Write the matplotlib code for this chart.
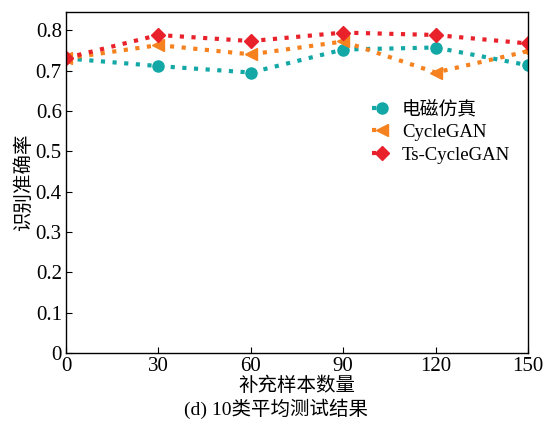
import matplotlib

matplotlib.use("Agg")
import matplotlib.pyplot as plt
from matplotlib.ticker import FuncFormatter

plt.rcParams["font.family"] = ["Liberation Serif", "Noto Sans CJK SC"]

# data
sample_counts = [0, 30, 60, 90, 120, 150]
em_sim = [0.730, 0.711, 0.695, 0.752, 0.757, 0.713]
cyclegan = [0.730, 0.763, 0.740, 0.772, 0.695, 0.748]
ts_cyclegan = [0.731, 0.788, 0.773, 0.794, 0.788, 0.767]

series = [
    ("电磁仿真", em_sim, "#13a8a6", "o", 8),
    ("CycleGAN", cyclegan, "#f5821f", "<", 8.5),
    ("Ts-CycleGAN", ts_cyclegan, "#e8212b", "D", 7.5),
]

fig = plt.figure(figsize=(5.52, 4.21), dpi=100)
ax = fig.add_axes([0.1196, 0.1615, 0.8369, 0.81])

for name, vals, color, mk, ms in series:
    ax.plot(sample_counts, vals, linestyle=(0, (1, 1.8)), linewidth=3,
            color=color, marker=mk, markersize=ms, label=name)

ax.set_xlim(0, 150)
ax.set_ylim(0, 0.845)
ax.set_xticks(sample_counts)
ax.set_yticks([0, 0.1, 0.2, 0.3, 0.4, 0.5, 0.6, 0.7, 0.8])
ax.yaxis.set_major_formatter(FuncFormatter(lambda v, p: "0" if v == 0 else f"{v:.1f}"))
ax.tick_params(direction="in", labelsize=15, length=4, pad=3)
for s in ax.spines.values():
    s.set_linewidth(1.0)

ax.set_xlabel("补充样本数量", fontsize=14, labelpad=0)
ax.set_ylabel("识别准确率", fontsize=14, labelpad=2)
fig.text(0.5, 0.03, "(d) 10类平均测试结果", ha="center", va="center", fontsize=14)

leg = ax.legend(loc="upper left", bbox_to_anchor=(0.642, 0.768), frameon=False,
                fontsize=13.5, handlelength=1.1, handletextpad=0.5,
                labelspacing=0.3, borderpad=0)

fig.savefig("out.png", dpi=100)
